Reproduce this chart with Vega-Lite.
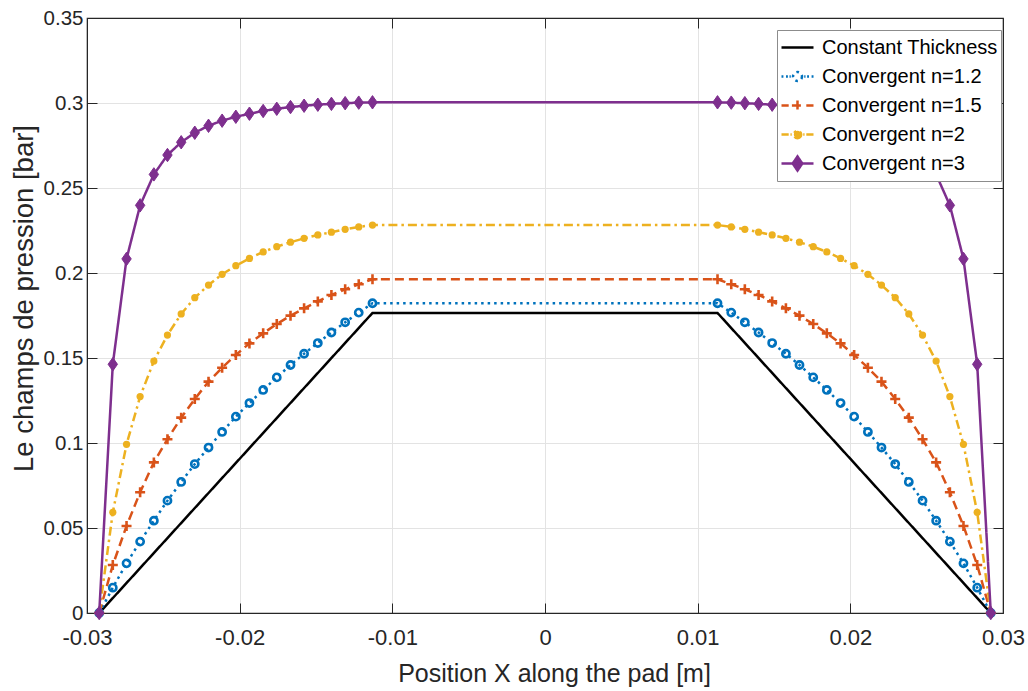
{
  "$schema": "https://vega.github.io/schema/vega-lite/v6.json",
  "width": 916,
  "height": 595,
  "autosize": {"type": "none"},
  "padding": {"left": 87, "top": 18, "right": 25, "bottom": 78},
  "background": "white",
  "config": {
    "view": {"stroke": "#262626", "strokeWidth": 1.2},
    "font": "Liberation Sans",
    "axis": {
      "labelFont": "Liberation Sans",
      "titleFont": "Liberation Sans",
      "labelColor": "#262626",
      "titleColor": "#262626",
      "titleFontWeight": "normal",
      "tickColor": "#262626",
      "domainColor": "#262626",
      "gridColor": "#e3e3e3",
      "gridWidth": 1,
      "labelFlush": false,
      "labelOverlap": false
    }
  },
  "data": {
    "values": [
      {"s": "Constant Thickness", "x": -0.0292, "p": 0},
      {"s": "Constant Thickness", "x": -0.0113, "p": 0.1765},
      {"s": "Constant Thickness", "x": 0.0113, "p": 0.1765},
      {"s": "Constant Thickness", "x": 0.0292, "p": 0},

      {"s": "Convergent n=1.2", "x": -0.0292, "p": 0},
      {"s": "Convergent n=1.2", "x": -0.02831, "p": 0.0149},
      {"s": "Convergent n=1.2", "x": -0.02741, "p": 0.0292},
      {"s": "Convergent n=1.2", "x": -0.02652, "p": 0.042},
      {"s": "Convergent n=1.2", "x": -0.02562, "p": 0.0543},
      {"s": "Convergent n=1.2", "x": -0.02473, "p": 0.0661},
      {"s": "Convergent n=1.2", "x": -0.02383, "p": 0.0771},
      {"s": "Convergent n=1.2", "x": -0.02294, "p": 0.0876},
      {"s": "Convergent n=1.2", "x": -0.02204, "p": 0.0973},
      {"s": "Convergent n=1.2", "x": -0.02115, "p": 0.1065},
      {"s": "Convergent n=1.2", "x": -0.02025, "p": 0.1155},
      {"s": "Convergent n=1.2", "x": -0.01936, "p": 0.1235},
      {"s": "Convergent n=1.2", "x": -0.01846, "p": 0.1312},
      {"s": "Convergent n=1.2", "x": -0.01757, "p": 0.1386},
      {"s": "Convergent n=1.2", "x": -0.01667, "p": 0.1459},
      {"s": "Convergent n=1.2", "x": -0.01578, "p": 0.1525},
      {"s": "Convergent n=1.2", "x": -0.01488, "p": 0.1588},
      {"s": "Convergent n=1.2", "x": -0.01399, "p": 0.165},
      {"s": "Convergent n=1.2", "x": -0.01309, "p": 0.171},
      {"s": "Convergent n=1.2", "x": -0.0122, "p": 0.1767},
      {"s": "Convergent n=1.2", "x": -0.0113, "p": 0.1822},
      {"s": "Convergent n=1.2", "x": 0.0113, "p": 0.1822},
      {"s": "Convergent n=1.2", "x": 0.0122, "p": 0.1767},
      {"s": "Convergent n=1.2", "x": 0.01309, "p": 0.171},
      {"s": "Convergent n=1.2", "x": 0.01399, "p": 0.165},
      {"s": "Convergent n=1.2", "x": 0.01488, "p": 0.1588},
      {"s": "Convergent n=1.2", "x": 0.01578, "p": 0.1525},
      {"s": "Convergent n=1.2", "x": 0.01667, "p": 0.1459},
      {"s": "Convergent n=1.2", "x": 0.01757, "p": 0.1386},
      {"s": "Convergent n=1.2", "x": 0.01846, "p": 0.1312},
      {"s": "Convergent n=1.2", "x": 0.01936, "p": 0.1235},
      {"s": "Convergent n=1.2", "x": 0.02025, "p": 0.1155},
      {"s": "Convergent n=1.2", "x": 0.02115, "p": 0.1065},
      {"s": "Convergent n=1.2", "x": 0.02204, "p": 0.0973},
      {"s": "Convergent n=1.2", "x": 0.02294, "p": 0.0876},
      {"s": "Convergent n=1.2", "x": 0.02383, "p": 0.0771},
      {"s": "Convergent n=1.2", "x": 0.02473, "p": 0.0661},
      {"s": "Convergent n=1.2", "x": 0.02562, "p": 0.0543},
      {"s": "Convergent n=1.2", "x": 0.02652, "p": 0.042},
      {"s": "Convergent n=1.2", "x": 0.02741, "p": 0.0292},
      {"s": "Convergent n=1.2", "x": 0.02831, "p": 0.0149},
      {"s": "Convergent n=1.2", "x": 0.0292, "p": 0},

      {"s": "Convergent n=1.5", "x": -0.0292, "p": 0},
      {"s": "Convergent n=1.5", "x": -0.02831, "p": 0.0282},
      {"s": "Convergent n=1.5", "x": -0.02741, "p": 0.0512},
      {"s": "Convergent n=1.5", "x": -0.02652, "p": 0.071},
      {"s": "Convergent n=1.5", "x": -0.02562, "p": 0.0886},
      {"s": "Convergent n=1.5", "x": -0.02473, "p": 0.1022},
      {"s": "Convergent n=1.5", "x": -0.02383, "p": 0.1149},
      {"s": "Convergent n=1.5", "x": -0.02294, "p": 0.1259},
      {"s": "Convergent n=1.5", "x": -0.02204, "p": 0.1361},
      {"s": "Convergent n=1.5", "x": -0.02115, "p": 0.1443},
      {"s": "Convergent n=1.5", "x": -0.02025, "p": 0.1518},
      {"s": "Convergent n=1.5", "x": -0.01936, "p": 0.1586},
      {"s": "Convergent n=1.5", "x": -0.01846, "p": 0.1645},
      {"s": "Convergent n=1.5", "x": -0.01757, "p": 0.17},
      {"s": "Convergent n=1.5", "x": -0.01667, "p": 0.1749},
      {"s": "Convergent n=1.5", "x": -0.01578, "p": 0.1792},
      {"s": "Convergent n=1.5", "x": -0.01488, "p": 0.1833},
      {"s": "Convergent n=1.5", "x": -0.01399, "p": 0.1871},
      {"s": "Convergent n=1.5", "x": -0.01309, "p": 0.1904},
      {"s": "Convergent n=1.5", "x": -0.0122, "p": 0.1934},
      {"s": "Convergent n=1.5", "x": -0.0113, "p": 0.1963},
      {"s": "Convergent n=1.5", "x": 0.0113, "p": 0.1963},
      {"s": "Convergent n=1.5", "x": 0.0122, "p": 0.1934},
      {"s": "Convergent n=1.5", "x": 0.01309, "p": 0.1904},
      {"s": "Convergent n=1.5", "x": 0.01399, "p": 0.1871},
      {"s": "Convergent n=1.5", "x": 0.01488, "p": 0.1833},
      {"s": "Convergent n=1.5", "x": 0.01578, "p": 0.1792},
      {"s": "Convergent n=1.5", "x": 0.01667, "p": 0.1749},
      {"s": "Convergent n=1.5", "x": 0.01757, "p": 0.17},
      {"s": "Convergent n=1.5", "x": 0.01846, "p": 0.1645},
      {"s": "Convergent n=1.5", "x": 0.01936, "p": 0.1586},
      {"s": "Convergent n=1.5", "x": 0.02025, "p": 0.1518},
      {"s": "Convergent n=1.5", "x": 0.02115, "p": 0.1443},
      {"s": "Convergent n=1.5", "x": 0.02204, "p": 0.1361},
      {"s": "Convergent n=1.5", "x": 0.02294, "p": 0.1259},
      {"s": "Convergent n=1.5", "x": 0.02383, "p": 0.1149},
      {"s": "Convergent n=1.5", "x": 0.02473, "p": 0.1022},
      {"s": "Convergent n=1.5", "x": 0.02562, "p": 0.0886},
      {"s": "Convergent n=1.5", "x": 0.02652, "p": 0.071},
      {"s": "Convergent n=1.5", "x": 0.02741, "p": 0.0512},
      {"s": "Convergent n=1.5", "x": 0.02831, "p": 0.0282},
      {"s": "Convergent n=1.5", "x": 0.0292, "p": 0},

      {"s": "Convergent n=2", "x": -0.0292, "p": 0},
      {"s": "Convergent n=2", "x": -0.02831, "p": 0.0592},
      {"s": "Convergent n=2", "x": -0.02741, "p": 0.0992},
      {"s": "Convergent n=2", "x": -0.02652, "p": 0.1273},
      {"s": "Convergent n=2", "x": -0.02562, "p": 0.1482},
      {"s": "Convergent n=2", "x": -0.02473, "p": 0.1635},
      {"s": "Convergent n=2", "x": -0.02383, "p": 0.1759},
      {"s": "Convergent n=2", "x": -0.02294, "p": 0.1855},
      {"s": "Convergent n=2", "x": -0.02204, "p": 0.1929},
      {"s": "Convergent n=2", "x": -0.02115, "p": 0.1992},
      {"s": "Convergent n=2", "x": -0.02025, "p": 0.2043},
      {"s": "Convergent n=2", "x": -0.01936, "p": 0.2086},
      {"s": "Convergent n=2", "x": -0.01846, "p": 0.2124},
      {"s": "Convergent n=2", "x": -0.01757, "p": 0.2155},
      {"s": "Convergent n=2", "x": -0.01667, "p": 0.2181},
      {"s": "Convergent n=2", "x": -0.01578, "p": 0.2204},
      {"s": "Convergent n=2", "x": -0.01488, "p": 0.2224},
      {"s": "Convergent n=2", "x": -0.01399, "p": 0.224},
      {"s": "Convergent n=2", "x": -0.01309, "p": 0.2257},
      {"s": "Convergent n=2", "x": -0.0122, "p": 0.2271},
      {"s": "Convergent n=2", "x": -0.0113, "p": 0.2282},
      {"s": "Convergent n=2", "x": 0.0113, "p": 0.2282},
      {"s": "Convergent n=2", "x": 0.0122, "p": 0.2271},
      {"s": "Convergent n=2", "x": 0.01309, "p": 0.2257},
      {"s": "Convergent n=2", "x": 0.01399, "p": 0.224},
      {"s": "Convergent n=2", "x": 0.01488, "p": 0.2224},
      {"s": "Convergent n=2", "x": 0.01578, "p": 0.2204},
      {"s": "Convergent n=2", "x": 0.01667, "p": 0.2181},
      {"s": "Convergent n=2", "x": 0.01757, "p": 0.2155},
      {"s": "Convergent n=2", "x": 0.01846, "p": 0.2124},
      {"s": "Convergent n=2", "x": 0.01936, "p": 0.2086},
      {"s": "Convergent n=2", "x": 0.02025, "p": 0.2043},
      {"s": "Convergent n=2", "x": 0.02115, "p": 0.1992},
      {"s": "Convergent n=2", "x": 0.02204, "p": 0.1929},
      {"s": "Convergent n=2", "x": 0.02294, "p": 0.1855},
      {"s": "Convergent n=2", "x": 0.02383, "p": 0.1759},
      {"s": "Convergent n=2", "x": 0.02473, "p": 0.1635},
      {"s": "Convergent n=2", "x": 0.02562, "p": 0.1482},
      {"s": "Convergent n=2", "x": 0.02652, "p": 0.1273},
      {"s": "Convergent n=2", "x": 0.02741, "p": 0.0992},
      {"s": "Convergent n=2", "x": 0.02831, "p": 0.0592},
      {"s": "Convergent n=2", "x": 0.0292, "p": 0},

      {"s": "Convergent n=3", "x": -0.0292, "p": 0},
      {"s": "Convergent n=3", "x": -0.02831, "p": 0.1463},
      {"s": "Convergent n=3", "x": -0.02741, "p": 0.2083},
      {"s": "Convergent n=3", "x": -0.02652, "p": 0.2398},
      {"s": "Convergent n=3", "x": -0.02562, "p": 0.258},
      {"s": "Convergent n=3", "x": -0.02473, "p": 0.2694},
      {"s": "Convergent n=3", "x": -0.02383, "p": 0.2769},
      {"s": "Convergent n=3", "x": -0.02294, "p": 0.2825},
      {"s": "Convergent n=3", "x": -0.02204, "p": 0.2866},
      {"s": "Convergent n=3", "x": -0.02115, "p": 0.2896},
      {"s": "Convergent n=3", "x": -0.02025, "p": 0.2919},
      {"s": "Convergent n=3", "x": -0.01936, "p": 0.2937},
      {"s": "Convergent n=3", "x": -0.01846, "p": 0.2953},
      {"s": "Convergent n=3", "x": -0.01757, "p": 0.2966},
      {"s": "Convergent n=3", "x": -0.01667, "p": 0.2976},
      {"s": "Convergent n=3", "x": -0.01578, "p": 0.2984},
      {"s": "Convergent n=3", "x": -0.01488, "p": 0.299},
      {"s": "Convergent n=3", "x": -0.01399, "p": 0.2995},
      {"s": "Convergent n=3", "x": -0.01309, "p": 0.2999},
      {"s": "Convergent n=3", "x": -0.0122, "p": 0.3002},
      {"s": "Convergent n=3", "x": -0.0113, "p": 0.3004},
      {"s": "Convergent n=3", "x": 0.0113, "p": 0.3004},
      {"s": "Convergent n=3", "x": 0.0122, "p": 0.3002},
      {"s": "Convergent n=3", "x": 0.01309, "p": 0.2999},
      {"s": "Convergent n=3", "x": 0.01399, "p": 0.2995},
      {"s": "Convergent n=3", "x": 0.01488, "p": 0.299},
      {"s": "Convergent n=3", "x": 0.01578, "p": 0.2984},
      {"s": "Convergent n=3", "x": 0.01667, "p": 0.2976},
      {"s": "Convergent n=3", "x": 0.01757, "p": 0.2966},
      {"s": "Convergent n=3", "x": 0.01846, "p": 0.2953},
      {"s": "Convergent n=3", "x": 0.01936, "p": 0.2937},
      {"s": "Convergent n=3", "x": 0.02025, "p": 0.2919},
      {"s": "Convergent n=3", "x": 0.02115, "p": 0.2896},
      {"s": "Convergent n=3", "x": 0.02204, "p": 0.2866},
      {"s": "Convergent n=3", "x": 0.02294, "p": 0.2825},
      {"s": "Convergent n=3", "x": 0.02383, "p": 0.2769},
      {"s": "Convergent n=3", "x": 0.02473, "p": 0.2694},
      {"s": "Convergent n=3", "x": 0.02562, "p": 0.258},
      {"s": "Convergent n=3", "x": 0.02652, "p": 0.2398},
      {"s": "Convergent n=3", "x": 0.02741, "p": 0.2083},
      {"s": "Convergent n=3", "x": 0.02831, "p": 0.1463},
      {"s": "Convergent n=3", "x": 0.0292, "p": 0}
    ]
  },
  "resolve": {"axis": {"x": "independent", "y": "independent"}},
  "layer": [
    {
      "mark": {"type": "line", "strokeWidth": 2.5, "clip": false},
      "encoding": {
        "x": {
          "field": "x", "type": "quantitative",
          "scale": {"domain": [-0.03, 0.03], "nice": false, "zero": false},
          "axis": {
            "orient": "bottom",
            "values": [-0.03, -0.02, -0.01, 0, 0.01, 0.02, 0.03],
            "labelExpr": "'' + datum.value",
            "title": "Position X along the pad [m]",
            "grid": true,
            "tickSize": -10,
            "labelPadding": 24,
            "labelFontSize": 22,
            "titleFontSize": 25,
            "titleX": 467,
            "titleY": 68,
            "titleBaseline": "alphabetic",
            "titleAlign": "center"
          }
        },
        "y": {
          "field": "p", "type": "quantitative",
          "scale": {"domain": [0, 0.35], "nice": false, "zero": false},
          "axis": {
            "orient": "left",
            "values": [0, 0.05, 0.1, 0.15, 0.2, 0.25, 0.3, 0.35],
            "labelExpr": "'' + datum.value",
            "title": "Le champs de pression [bar]",
            "grid": true,
            "tickSize": -10,
            "labelPadding": 14,
            "labelFontSize": 20.5,
            "titleFontSize": 27.5,
            "titleX": -55,
            "titleY": 280,
            "titleAngle": -90,
            "titleBaseline": "alphabetic",
            "titleAlign": "center"
          }
        },
        "color": {
          "field": "s", "type": "nominal",
          "scale": {
            "domain": ["Constant Thickness", "Convergent n=1.2", "Convergent n=1.5", "Convergent n=2", "Convergent n=3"],
            "range": ["#000000", "#0072BD", "#D95319", "#EDB120", "#7E2F8E"]
          },
          "legend": {
            "orient": "none",
            "legendX": 690,
            "legendY": 12,
            "title": null,
            "symbolSize": 1024,
            "clipHeight": 29,
            "rowPadding": 0,
            "padding": 3,
            "symbolOffset": 0,
            "labelOffset": 7,
            "labelFont": "Liberation Sans",
            "labelFontSize": 20,
            "labelColor": "#000000",
            "labelLimit": 400,
            "symbolStrokeWidth": 2.5,
            "fillColor": "#ffffff",
            "strokeColor": "#8c8c8c",
            "encode": {
              "symbols": {
                "update": {
                  "shape": {"signal": "datum.value === 'Constant Thickness' ? 'M-1,0H1' : datum.value === 'Convergent n=1.2' ? 'M-1,0H-0.88M-0.72,0H-0.6M-0.5,0H-0.42M0.42,0H0.5M0.6,0H0.72M0.88,0H1M0.28,0A0.28,0.28,0,1,1,-0.28,0A0.28,0.28,0,1,1,0.28,0Z' : datum.value === 'Convergent n=1.5' ? 'M-1,0H-0.55M-0.35,0H0.35M0.55,0H1M0,-0.32V0.32' : datum.value === 'Convergent n=2' ? 'M-1,0H-0.55M-0.44,0H-0.36M0.36,0H0.44M0.55,0H1M0.23,0A0.23,0.23,0,1,1,-0.23,0A0.23,0.23,0,1,1,0.23,0Z' : 'M-1,0H1M0,-0.44L0.3,0L0,0.44L-0.3,0Z'"},
                  "fill": {"signal": "datum.value === 'Convergent n=2' ? '#EDB120' : datum.value === 'Convergent n=3' ? '#7E2F8E' : 'transparent'"},
                  "strokeDash": {"value": []},
                  "strokeWidth": {"value": 2.5}
                }
              }
            }
          }
        },
        "strokeDash": {
          "field": "s", "type": "nominal",
          "scale": {
            "domain": ["Constant Thickness", "Convergent n=1.2", "Convergent n=1.5", "Convergent n=2", "Convergent n=3"],
            "range": [[1, 0], [2.5, 4], [9, 5], [9, 4, 2.5, 4], [1, 0]]
          },
          "legend": null
        }
      }
    },
    {
      "transform": [{"filter": "datum.s === 'Convergent n=1.2'"}],
      "mark": {"type": "point", "shape": "circle", "size": 52, "strokeWidth": 2.6, "color": "#0072BD", "filled": false, "opacity": 1},
      "encoding": {
        "x": {
          "field": "x", "type": "quantitative",
          "axis": {
            "orient": "top",
            "values": [-0.03, -0.02, -0.01, 0, 0.01, 0.02, 0.03],
            "labels": false, "title": null, "grid": false, "tickSize": -10, "domain": true
          }
        },
        "y": {
          "field": "p", "type": "quantitative",
          "axis": {
            "orient": "right",
            "values": [0, 0.05, 0.1, 0.15, 0.2, 0.25, 0.3, 0.35],
            "labels": false, "title": null, "grid": false, "tickSize": -10, "domain": true
          }
        }
      }
    },
    {
      "transform": [{"filter": "datum.s === 'Convergent n=1.5'"}],
      "mark": {"type": "point", "shape": "M-1,0H1M0,-1V1", "size": 100, "strokeWidth": 2.6, "color": "#D95319", "filled": false, "opacity": 1},
      "encoding": {
        "x": {"field": "x", "type": "quantitative", "axis": null},
        "y": {"field": "p", "type": "quantitative", "axis": null}
      }
    },
    {
      "transform": [{"filter": "datum.s === 'Convergent n=2'"}],
      "mark": {"type": "point", "shape": "circle", "size": 52, "color": "#EDB120", "filled": true, "opacity": 1},
      "encoding": {
        "x": {"field": "x", "type": "quantitative", "axis": null},
        "y": {"field": "p", "type": "quantitative", "axis": null}
      }
    },
    {
      "transform": [{"filter": "datum.s === 'Convergent n=3'"}],
      "mark": {"type": "point", "shape": "M0,-1L0.7,0L0,1L-0.7,0Z", "size": 180, "color": "#7E2F8E", "filled": true, "stroke": "#7E2F8E", "strokeWidth": 1, "opacity": 1},
      "encoding": {
        "x": {"field": "x", "type": "quantitative", "axis": null},
        "y": {"field": "p", "type": "quantitative", "axis": null}
      }
    }
  ]
}
